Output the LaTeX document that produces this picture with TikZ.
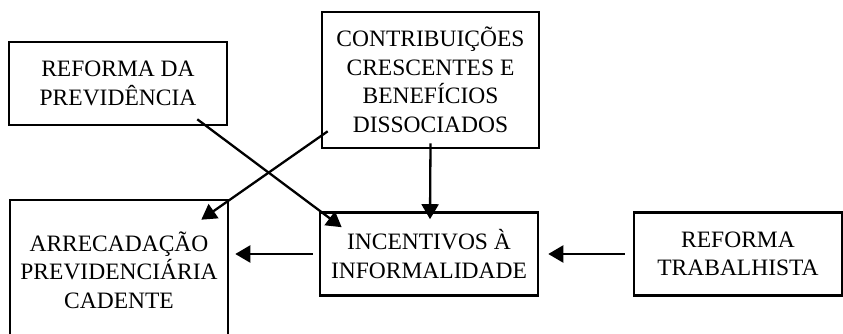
\documentclass[tikz,border=0pt]{standalone}
\usepackage{fontspec}
\setmainfont{Liberation Serif}
\usepackage{tikz}
\usetikzlibrary{arrows.meta,calc}

\tikzset{
	caixa/.style={draw,line width=2.6pt,inner sep=0pt,align=center,
		font=\fontsize{23.5}{28.5}\selectfont},
	seta/.style={line width=2.3pt,-{Triangle[length=15pt,width=17pt]}}
}

\begin{document}
\begin{tikzpicture}[x=1pt,y=-1pt]
	\useasboundingbox (0,0) rectangle (843,334);
	\draw (118,  83.5) node[caixa,minimum width=218pt,minimum height=83pt]  (RP) {REFORMA DA\\PREVID\^ENCIA};
	\draw (430.5, 80)  node[caixa,minimum width=217pt,minimum height=136pt] (CB) {CONTRIBUI\c{C}\~OES\\CRESCENTES E\\BENEF\'ICIOS\\DISSOCIADOS};
	\draw (119,  270)  node[caixa,minimum width=218pt,minimum height=140pt] (AR) {ARRECADA\c{C}\~AO\\PREVIDENCI\'ARIA\\CADENTE};
	\draw (429,  254)  node[caixa,minimum width=218pt,minimum height=83pt]  (IN) {INCENTIVOS \`A\\INFORMALIDADE};
	\draw (738,  254)  node[caixa,minimum width=208pt,minimum height=83pt]  (RT) {REFORMA\\TRABALHISTA};
	\draw[seta] ($(RP.south east)+(-31,-7)$) -- ($(IN.north west)+(23,16)$);
	\draw[seta] ($(CB.south west)+(7,-18)$) -- ($(AR.north east)+(-28,21)$);
	\draw[seta] ($(CB.south)+(0,-6)$) -- ($(IN.north)+(1,8)$);
	\draw[seta] ($(RT.west)+(-8,0)$) -- ($(IN.east)+(9,0)$);
	\draw[seta] ($(IN.west)+(-6,0)$) -- ($(AR.east |- IN.west)+(6,0)$);
\end{tikzpicture}
\end{document}
